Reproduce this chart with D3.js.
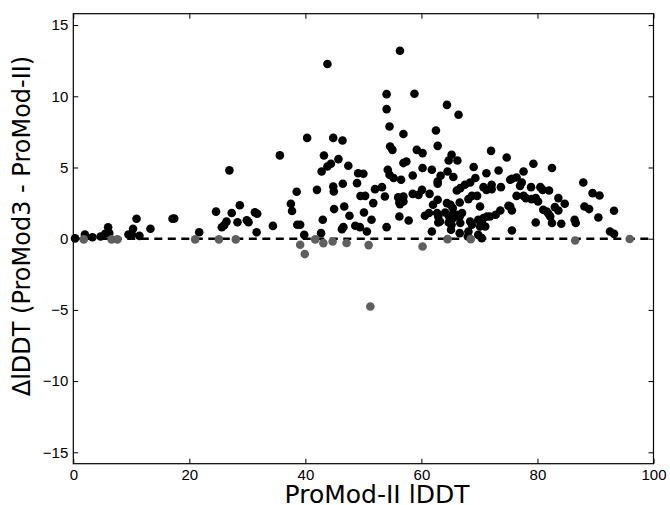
<!DOCTYPE html>
<html>
<head>
<meta charset="utf-8">
<script src="https://cdn.jsdelivr.net/npm/d3@7"></script>
<style>
  body { margin: 0; background: #fff; }
  svg { font-family: "DejaVu Sans", sans-serif; }
</style>
</head>
<body>
<svg id="chart" width="670" height="505"></svg>
<script>
// models where ProMod3 is better (or equal) than ProMod-II
const betterX = [0.3,2.0,3.3,4.7,5.5,6.0,6.2,9.5,10.1,10.3,10.9,11.4,13.3,17.1,17.4,21.7,24.6,25.6,26.0,26.4,
  26.9,27.3,28.3,28.7,29.9,30.2,31.3,31.7,31.6,34.4,35.6,37.5,37.7,38.5,38.6,39.1,39.8,40.3,42.0,42.7,
  42.8,43.0,43.2,43.8,44.4,43.8,44.8,44.8,44.9,44.95,45.7,46.4,46.45,46.55,46.3,46.7,47.4,47.6,48.6,48.9,
  49.1,49.5,50.0,50.3,52.0,53.2,51.7,53.7,50.1,51.4,49.4,50.6,54.0,56.3,58.8,54.0,54.5,56.9,62.5,54.6,
  55.0,59.2,60.2,62.8,56.9,57.4,54.2,54.5,55.2,56.5,58.5,60.2,61.8,62.8,56.0,56.9,56.2,56.9,56.3,58.5,
  59.5,60.1,61.4,62.8,62.8,62.0,60.6,61.3,62.7,56.2,57.8,54.0,61.8,62.9,66.6,68.1,68.0,69.8,70.4,75.6,
  92.5,93.2,64.4,66.4,65.2,64.7,66.2,72.0,74.7,63.3,64.5,65.5,69.0,71.2,73.3,75.3,69.3,68.4,67.5,66.7,
  66.1,70.7,71.2,72.1,72.1,73.7,68.7,69.6,68.1,70.1,71.8,64.4,65.0,65.4,66.6,62.9,64.1,64.7,65.3,65.5,
  66.1,66.6,67.0,63.2,64.7,65.2,65.1,66.7,68.4,68.7,69.8,70.4,70.7,71.3,72.8,73.6,70.1,71.0,75.3,79.3,
  82.5,77.6,75.6,76.4,77.3,77.0,78.9,80.5,80.9,82.0,87.9,76.4,77.6,78.0,79.0,79.7,80.1,83.6,84.7,75.0,
  75.6,81.0,81.6,82.2,81.9,83.0,83.6,79.7,82.5,84.1,86.4,86.6,88.1,89.5,90.7,88.9,90.5,93.2];
const betterY = [0.02,0.3,0.1,0.15,0.35,0.8,0.4,0.3,0.3,0.7,1.4,0.2,0.7,1.4,1.42,0.45,1.9,0.8,0.95,1.2,
  4.8,1.8,1.15,2.35,1.3,1.15,1.85,1.75,0.45,0.9,5.85,2.45,1.95,3.3,0.98,0.98,0.27,7.08,3.43,0.39,
  4.72,1.33,5.84,5.07,5.26,12.27,7.08,3.67,3.31,2.08,5.59,6.9,3.86,0.81,0.67,2.26,5.12,1.61,0.91,3.9,
  4.6,3.0,4.56,3.01,3.48,3.62,2.5,2.96,1.84,1.33,0.81,0.51,10.15,13.2,10.18,9.1,7.88,7.35,7.6,6.47,
  6.24,6.24,6.01,6.52,5.31,5.42,4.84,4.49,4.26,4.14,4.44,4.96,4.84,4.02,2.9,2.96,2.54,2.61,2.43,3.15,
  3.08,3.43,3.15,3.86,2.73,2.38,1.61,1.8,1.8,1.56,1.28,0.81,0.51,1.14,0.39,0.51,0.15,0.27,0.04,0.58,
  0.51,0.34,9.4,8.7,5.89,5.49,5.49,6.17,5.7,4.42,4.72,4.33,5.03,4.6,4.79,4.14,4.26,3.95,3.79,3.55,
  3.38,3.62,3.43,3.79,3.48,3.62,3.01,3.01,2.78,2.26,1.56,2.5,2.38,2.15,2.54,1.56,1.84,1.61,1.68,1.45,
  1.68,1.56,1.8,1.21,1.14,0.98,0.63,1.1,1.21,0.98,1.33,1.14,1.45,1.56,1.68,1.98,0.86,0.86,2.26,5.26,
  4.96,4.72,4.21,4.3,3.95,3.71,3.62,3.62,3.43,3.38,3.95,3.01,3.01,2.85,2.78,2.85,2.61,2.85,2.45,2.31,
  1.98,2.03,1.91,1.56,1.75,2.22,1.98,1.14,1.1,1.05,1.33,1.1,2.26,3.2,3.03,2.08,1.49,1.96];

// models where ProMod3 is worse
const worseX = [1.8,6.6,7.6,21.0,25.1,28.0,39.1,39.9,41.7,43.1,44.7,47.1,50.9,51.2,60.2,64.5,68.5,86.5,95.9];
const worseY = [-0.05,-0.05,-0.05,-0.05,-0.05,-0.05,-0.43,-1.08,-0.05,-0.31,-0.2,-0.3,-0.45,-4.76,-0.55,-0.03,-0.03,-0.13,-0.02];

const xTicks = [0, 20, 40, 60, 80, 100];
const yTicks = [-15, -10, -5, 0, 5, 10, 15];

const svg = d3.select("#chart");
const margin = {left: 73.3, right: 16.5, top: 13.7, bottom: 41.3};
const W = 670, H = 505;

const x = d3.scaleLinear().domain([0, 100]).range([margin.left, W - margin.right]);
const y = d3.scaleLinear().domain([-15.8, 15.8]).range([H - margin.bottom, margin.top]);

// zero line
svg.append("line")
  .attr("x1", x(0)).attr("x2", x(100))
  .attr("y1", y(0)).attr("y2", y(0))
  .attr("stroke", "#000").attr("stroke-width", 2.5)
  .attr("stroke-dasharray", "8,5.5");

let pts = betterX.map((d, i) => ({x: d, y: betterY[i], c: "#000"}))
  .concat(worseX.map((d, i) => ({x: d, y: worseY[i], c: "#5f5f5f"})));

svg.append("g").selectAll("circle")
  .data(pts)
  .join("circle")
  .attr("cx", d => x(d.x))
  .attr("cy", d => y(d.y))
  .attr("r", 4.3)
  .attr("fill", d => d.c);

// axes, ticks inward on all four sides
function styleAxis(g) {
  g.select(".domain").remove();
  g.selectAll(".tick line").attr("stroke", "#000");
  g.selectAll(".tick text").attr("font-size", 15).attr("fill", "#000");
}
svg.append("g").attr("transform", `translate(0,${H - margin.bottom})`)
  .call(d3.axisBottom(x).tickValues(xTicks).tickSizeInner(-5).tickPadding(6))
  .call(styleAxis);
svg.append("g").attr("transform", `translate(0,${margin.top})`)
  .call(d3.axisTop(x).tickValues(xTicks).tickSizeInner(-5).tickFormat(""))
  .call(styleAxis);
svg.append("g").attr("transform", `translate(${margin.left},0)`)
  .call(d3.axisLeft(y).tickValues(yTicks).tickSizeInner(-5).tickPadding(5))
  .call(styleAxis);
svg.append("g").attr("transform", `translate(${W - margin.right},0)`)
  .call(d3.axisRight(y).tickValues(yTicks).tickSizeInner(-5).tickFormat(""))
  .call(styleAxis);

svg.append("rect")
  .attr("x", margin.left).attr("y", margin.top)
  .attr("width", W - margin.left - margin.right)
  .attr("height", H - margin.top - margin.bottom)
  .attr("fill", "none").attr("stroke", "#000").attr("stroke-width", 1.2);

svg.append("text")
  .attr("x", 377).attr("y", 503)
  .attr("text-anchor", "middle").attr("font-size", 25)
  .text("ProMod-II lDDT");

svg.append("text")
  .attr("transform", "translate(30,226) rotate(-90)")
  .attr("text-anchor", "middle").attr("font-size", 24)
  .text("ΔlDDT (ProMod3 - ProMod-II)");
</script>
</body>
</html>
